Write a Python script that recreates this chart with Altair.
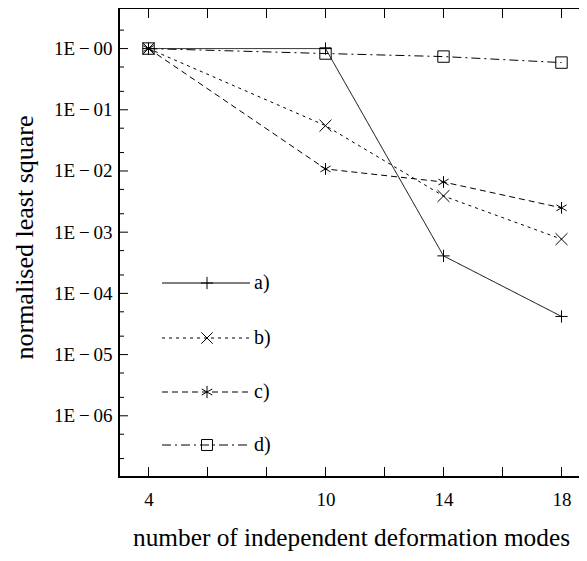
import altair as alt
import pandas as pd

# ---- data ----
modes = [4, 10, 14, 18]
series_a = [1.0, 1.0, 4.1e-4, 4.2e-5]
series_b = [1.0, 5.5e-2, 3.9e-3, 7.7e-4]
series_c = [1.0, 1.08e-2, 6.6e-3, 2.5e-3]
series_d = [1.0, 0.83, 0.74, 0.59]
series_names = ["a)", "b)", "c)", "d)"]

x_tick_values = [4, 6, 8, 10, 12, 14, 16, 18]
x_label_values = [4, 10, 14, 18]
y_major_values = [1, 1e-1, 1e-2, 1e-3, 1e-4, 1e-5, 1e-6]
y_minor_values = [2e-7, 5e-7, 2e-6, 5e-6, 2e-5, 5e-5, 2e-4, 5e-4,
                  2e-3, 5e-3, 2e-2, 5e-2, 0.2, 0.5, 2]

FONT = "Liberation Serif"
W, H = 472, 469

rows = []
for name, vals in zip(series_names, [series_a, series_b, series_c, series_d]):
    for m, v in zip(modes, vals):
        rows.append({"series": name, "modes": m, "value": v})
df = pd.DataFrame(rows)

dashes = [[1, 0], [3, 4], [6, 4], [9, 4, 2, 4]]
shapes = [
    "M-1,0L1,0M0,-1L0,1",
    "M-1,-1L1,1M-1,1L1,-1",
    "M0,-1L0,1M-0.87,-0.5L0.87,0.5M-0.87,0.5L0.87,-0.5",
    "square",
]
sizes = [150, 130, 150, 120]

xscale = alt.Scale(domain=[3, 19], nice=False, zero=False)
yscale = alt.Scale(type="log", domain=[1e-7, 4.6], nice=False)

x_axis = alt.Axis(
    values=x_label_values, ticks=False, tickSize=0, domain=False, grid=False,
    labelFont=FONT, labelFontSize=19, labelColor="black",
    labelBaseline="alphabetic", labelPadding=28,
    title="number of independent deformation modes",
    titleFont=FONT, titleFontSize=25.3, titleFontWeight="normal", titleColor="black",
    titleX=232, titleY=68, titleBaseline="alphabetic", titleAlign="center",
)
y_axis = alt.Axis(
    values=y_major_values, ticks=False, tickSize=0, domain=False, grid=False,
    labelExpr="'1E\u2009\u2212\u20090' + abs(round(log(datum.value) / LN10))",
    labelFont=FONT, labelFontSize=19, labelColor="black", labelPadding=7,
    labelBaseline="middle",
    title="normalised least square",
    titleFont=FONT, titleFontSize=26, titleFontWeight="normal", titleColor="black",
    titleX=-87, titleY=229, titleAngle=270, titleBaseline="alphabetic", titleAlign="center",
)

dash_scale = alt.Scale(domain=series_names, range=dashes)
shape_scale = alt.Scale(domain=series_names, range=shapes)
size_scale = alt.Scale(domain=series_names, range=sizes)

lines = alt.Chart(df).mark_line(color="black", strokeWidth=1).encode(
    x=alt.X("modes:Q", scale=xscale, axis=x_axis),
    y=alt.Y("value:Q", scale=yscale, axis=y_axis),
    strokeDash=alt.StrokeDash("series:N", scale=dash_scale, legend=None),
    detail="series:N",
)
points = alt.Chart(df).mark_point(filled=False, color="black", strokeWidth=1, opacity=1).encode(
    x=alt.X("modes:Q", scale=xscale),
    y=alt.Y("value:Q", scale=yscale),
    shape=alt.Shape("series:N", scale=shape_scale, legend=None),
    size=alt.Size("series:N", scale=size_scale, legend=None),
)

# inward tick marks on all four sides
xt = pd.DataFrame({"t": x_tick_values})
ymaj = pd.DataFrame({"t": y_major_values})
ymin = pd.DataFrame({"t": y_minor_values})

def xticks(y0, y1):
    return alt.Chart(xt).mark_rule(color="black", strokeWidth=1).encode(
        x=alt.X("t:Q", scale=xscale), y=alt.value(y0), y2=alt.value(y1))

def yticks(data, x0, x1):
    return alt.Chart(data).mark_rule(color="black", strokeWidth=1).encode(
        y=alt.Y("t:Q", scale=yscale), x=alt.value(x0), x2=alt.value(x1))

tick_layers = [
    xticks(H, H - 10), xticks(0, 10),
    yticks(ymaj, 0, 9), yticks(ymin, 0, 5),
    yticks(ymaj, W, W - 9), yticks(ymin, W, W - 5),
]

one = pd.DataFrame({"k": [0]})
frame = alt.Chart(one).mark_rect(fill=None, fillOpacity=0, stroke="black", strokeWidth=2).encode(
    x=alt.value(0), x2=alt.value(W), y=alt.value(0), y2=alt.value(H))

# legend drawn inside the plot
legend_rows = [275, 330, 384, 437]
legend_layers = []
for name, dash, shp, sz, ly in zip(series_names, dashes, shapes, sizes, legend_rows):
    legend_layers.append(
        alt.Chart(one).mark_rule(color="black", strokeWidth=1, strokeDash=dash).encode(
            x=alt.value(43), x2=alt.value(131), y=alt.value(ly)))
    legend_layers.append(
        alt.Chart(one).mark_point(filled=False, color="black", strokeWidth=1, opacity=1,
                                  shape=shp, size=sz).encode(
            x=alt.value(88), y=alt.value(ly)))
    legend_layers.append(
        alt.Chart(one).mark_text(text=name, font=FONT, fontSize=20, color="black",
                                 align="left", baseline="middle").encode(
            x=alt.value(135), y=alt.value(ly)))

chart = alt.layer(lines, points, *tick_layers, frame, *legend_layers).properties(
    width=W, height=H,
    background="white",
    autosize=alt.AutoSizeParams(type="none"),
    padding={"left": 111, "top": 0, "right": -12, "bottom": 76},
).configure_view(strokeWidth=0)

chart.save("out.html", embed_options={"renderer": "svg", "actions": False})
